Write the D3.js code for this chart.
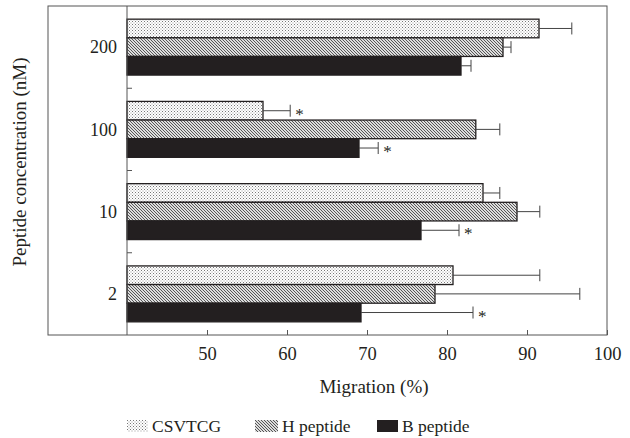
<!DOCTYPE html>
<html lang="en">
<head>
<meta charset="utf-8">
<title>Peptide migration</title>
<style>
 body { margin: 0; background: #fff; font-family: "Liberation Serif", serif; }
 text { fill: #231f20; }
</style>
<script src="https://d3js.org/d3.v7.min.js"></script>
</head>
<body>
<div id="chart"></div>
<script>

 //Data
 const concentrations = ['200', '100', '10', '2'];
 const series = ['CSVTCG', 'H peptide', 'B peptide'];
 const csvtcg = [91.5, 57.0, 84.5, 80.75];
 const csvtcgErr = [4.1, 3.4, 2.1, 10.85];
 const hPeptide = [87.0, 83.6, 88.75, 78.5];
 const hPeptideErr = [1.0, 3.0, 2.85, 18.1];
 const bPeptide = [81.75, 69.0, 76.75, 69.25];
 const bPeptideErr = [1.25, 2.4, 4.75, 14.0];
 //asterisk marks, [concentration index, series index]
 const signif = [[1, 0], [1, 2], [2, 2], [3, 2]];
 const xTicks = [50, 60, 70, 80, 90, 100];

 const values = [csvtcg, hPeptide, bPeptide];
 const errors = [csvtcgErr, hPeptideErr, bPeptideErr];
 const rows = [];
 concentrations.forEach((c, i) => {
     series.forEach((s, j) => {
	 rows.push({conc: c, series: s, value: values[j][i], err: errors[j][i],
		    star: signif.some(p => p[0] === i && p[1] === j)});
     });
 });

 //Display specs
 const W = 630, H = 438;
 const frame = {left: 48, right: 607, top: 6, bottom: 335};
 const ink = '#231f20';

 const svg = d3.select('#chart').append('svg')
	       .attr('width', W)
	       .attr('height', H);

 //Patterns
 const defs = svg.append('defs');
 const dots = defs.append('pattern')
		  .attr('id', 'dots')
		  .attr('patternUnits', 'userSpaceOnUse')
		  .attr('width', 3).attr('height', 3);
 dots.append('rect').attr('width', 3).attr('height', 3).attr('fill', '#fff');
 dots.append('rect').attr('x', 0).attr('y', 0).attr('width', 1).attr('height', 1).attr('fill', '#777');
 dots.append('rect').attr('x', 1.5).attr('y', 1.5).attr('width', 1).attr('height', 1).attr('fill', '#999');

 const hatch = defs.append('pattern')
		   .attr('id', 'hatch')
		   .attr('patternUnits', 'userSpaceOnUse')
		   .attr('width', 3).attr('height', 3);
 hatch.append('rect').attr('width', 3).attr('height', 3).attr('fill', '#ddd');
 hatch.append('path')
      .attr('d', 'M-1,-1L4,4M-1,2L1,4M2,-1L4,1')
      .attr('stroke', '#555')
      .attr('stroke-width', 1);

 const fills = {'CSVTCG': 'url(#dots)', 'H peptide': 'url(#hatch)', 'B peptide': ink};

 //Scales
 const x = d3.scaleLinear().domain([40, 100]).range([127, frame.right]);
 const y = d3.scaleBand().domain(concentrations).range([frame.top, frame.bottom]);
 const inner = d3.scaleBand().domain(series)
		 .range([y.bandwidth() * 0.16, y.bandwidth() * 0.84]);

 //Frame
 svg.append('rect')
    .attr('x', frame.left).attr('y', frame.top)
    .attr('width', frame.right - frame.left)
    .attr('height', frame.bottom - frame.top)
    .attr('fill', 'none')
    .attr('stroke', '#555')
    .attr('stroke-width', 1);

 //Bars
 const bars = svg.append('g');
 bars.selectAll('rect')
     .data(rows)
     .enter()
     .append('rect')
     .attr('x', x(40))
     .attr('y', d => y(d.conc) + inner(d.series))
     .attr('width', d => x(d.value) - x(40))
     .attr('height', inner.bandwidth())
     .attr('fill', d => fills[d.series])
     .attr('stroke', ink)
     .attr('stroke-width', 1.3);

 //Error bars
 const mid = d => y(d.conc) + inner(d.series) + inner.bandwidth() / 2;
 const errG = svg.append('g').attr('stroke', '#444').attr('stroke-width', 1);
 errG.selectAll('line.stem')
     .data(rows)
     .enter()
     .append('line')
     .attr('class', 'stem')
     .attr('x1', d => x(d.value))
     .attr('x2', d => x(d.value + d.err))
     .attr('y1', mid)
     .attr('y2', mid);
 errG.selectAll('line.cap')
     .data(rows)
     .enter()
     .append('line')
     .attr('class', 'cap')
     .attr('x1', d => x(d.value + d.err))
     .attr('x2', d => x(d.value + d.err))
     .attr('y1', d => mid(d) - 6)
     .attr('y2', d => mid(d) + 6);

 //Asterisks
 svg.append('g').selectAll('text')
    .data(rows.filter(d => d.star))
    .enter()
    .append('text')
    .attr('x', d => x(d.value + d.err) + 5)
    .attr('y', d => mid(d) + 9)
    .style('font-size', '17px')
    .text('*');

 //Xaxis
 const xAxis = svg.append('g')
		  .attr('transform', 'translate(0,' + frame.bottom + ')')
		  .call(d3.axisTop(x).tickValues(xTicks).tickSize(5).tickFormat(d3.format('d')));
 xAxis.select('.domain').remove();
 xAxis.selectAll('line').attr('stroke', '#555');
 xAxis.selectAll('text')
      .attr('y', 12)
      .attr('dy', '0.71em')
      .style('font-family', '"Liberation Serif", serif')
      .style('font-size', '18.5px')
      .attr('fill', ink);

 //Yaxis line with inner ticks at band edges
 svg.append('line')
    .attr('x1', x(40)).attr('x2', x(40))
    .attr('y1', frame.top).attr('y2', frame.bottom)
    .attr('stroke', '#555');
 svg.append('g').selectAll('line')
    .data(concentrations.slice(1))
    .enter()
    .append('line')
    .attr('x1', x(40)).attr('x2', x(40) + 5)
    .attr('y1', d => y(d))
    .attr('y2', d => y(d))
    .attr('stroke', '#555');
 svg.append('g').selectAll('text')
    .data(concentrations)
    .enter()
    .append('text')
    .attr('x', x(40) - 10)
    .attr('y', d => y(d) + y.bandwidth() / 2)
    .attr('dy', '0.35em')
    .style('text-anchor', 'end')
    .style('font-size', '18px')
    .text(d => d);

 //Axis titles
 svg.append('text')
    .attr('x', 374).attr('y', 393)
    .style('text-anchor', 'middle')
    .style('font-size', '19px')
    .text('Migration (%)');
 svg.append('text')
    .style('text-anchor', 'middle')
    .style('font-size', '19px')
    .attr('transform', 'translate(26,' + 162 + ')rotate(-90)')
    .text('Peptide concentration (nM)');

 //Legend
 const legendX = [127, 255, 377];
 const legend = svg.append('g').selectAll('g')
		   .data(series)
		   .enter()
		   .append('g')
		   .attr('transform', (d, i) => 'translate(' + legendX[i] + ',420)');
 legend.append('rect')
       .attr('width', (d, i) => i === 1 ? 23 : 21)
       .attr('height', 12)
       .attr('fill', d => fills[d]);
 legend.append('text')
       .attr('x', (d, i) => i === 1 ? 27 : 25)
       .attr('y', 12)
       .style('font-size', '17.5px')
       .text(d => d);

</script>
</body>
</html>
